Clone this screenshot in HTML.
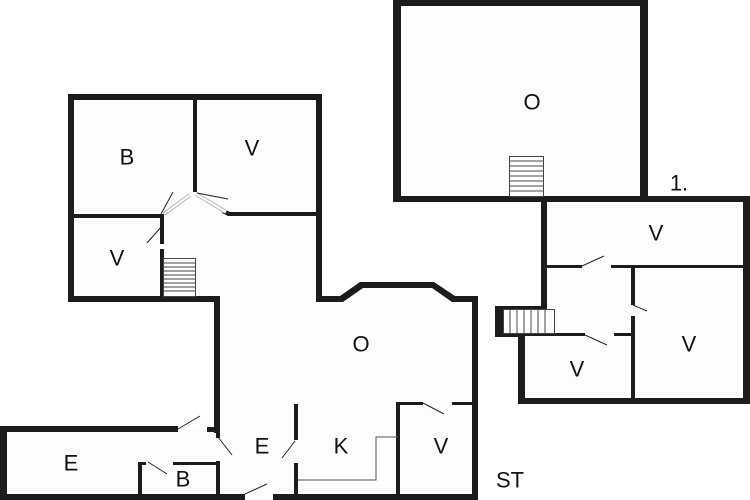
<!DOCTYPE html>
<html><head><meta charset="utf-8"><style>
html,body{margin:0;padding:0;background:#fff;}
svg{display:block;}
text{font-family:"Liberation Sans",sans-serif;font-size:22px;fill:#111;text-anchor:middle;dominant-baseline:central;}
</style></head><body>
<svg width="750" height="500" viewBox="0 0 750 500">
<rect width="750" height="500" fill="#fff"/>
<!-- room fills -->
<g fill="#fdfdfc">
<rect x="71" y="97" width="248" height="202"/>
<rect x="217" y="296" width="258" height="202"/>
<polygon points="319,299 342,299 362,285 433,285 453,299 475,299 475,498 319,498"/>
<rect x="3" y="429" width="216" height="69"/>
<rect x="397" y="3" width="247" height="196"/>
<rect x="544" y="199" width="203" height="202"/>
<rect x="521" y="320" width="30" height="82"/>
</g>
<g fill="#1c1c1c">
<!-- left top block -->
<rect x="68" y="94" width="254" height="6"/>
<rect x="68" y="94" width="6" height="208"/>
<rect x="68" y="296" width="152" height="6"/>
<rect x="316" y="94" width="6" height="208"/>
<rect x="193" y="97" width="4" height="95"/>
<rect x="74" y="214" width="88" height="4"/>
<rect x="228" y="212" width="90" height="4"/>
<polygon points="224,209 230,212 228,216 222,213"/>
<rect x="160" y="214" width="4" height="30"/>
<rect x="160" y="249" width="4" height="48"/>
<!-- corridor -->
<rect x="214" y="296" width="6" height="137"/>
<rect x="207" y="427" width="13" height="5"/>
<rect x="216" y="432" width="4" height="6"/>
<rect x="216" y="461" width="4" height="36"/>
<!-- O room top -->
<polygon points="316,296 340,296 360,282 434,282 455,296 478,296 478,302 452,302 432,288 363,288 343,302 316,302"/>
<rect x="472" y="296" width="6" height="204"/>
<!-- E room -->
<rect x="0" y="426" width="178" height="6"/>
<rect x="0" y="426" width="7" height="74"/>
<rect x="0" y="494" width="245" height="6"/>
<rect x="273" y="494" width="205" height="6"/>
<rect x="138" y="462" width="4" height="34"/>
<rect x="138" y="462" width="8" height="3"/>
<rect x="173" y="462" width="47" height="3"/>
<!-- E/K -->
<rect x="294" y="404" width="4" height="36"/>
<rect x="294" y="463" width="4" height="33"/>
<!-- V bottom -->
<rect x="396" y="402" width="4" height="94"/>
<rect x="396" y="402" width="27" height="3"/>
<rect x="452" y="402" width="22" height="3"/>
<!-- top right O block -->
<rect x="393" y="0" width="255" height="6"/>
<rect x="393" y="0" width="8" height="202"/>
<rect x="640" y="0" width="8" height="202"/>
<rect x="393" y="196" width="357" height="6"/>
<!-- right lower block -->
<rect x="743" y="196" width="7" height="208"/>
<rect x="541" y="196" width="6" height="114"/>
<rect x="495" y="306" width="52" height="6"/>
<rect x="495" y="306" width="8" height="31"/>
<rect x="495" y="332" width="30" height="5"/>
<rect x="518" y="332" width="7" height="72"/>
<rect x="518" y="398" width="232" height="6"/>
<rect x="547" y="265" width="35" height="3"/>
<rect x="611" y="265" width="132" height="3"/>
<rect x="631" y="266" width="4" height="39"/>
<rect x="631" y="316" width="4" height="84"/>
<rect x="525" y="333" width="60" height="3"/>
<rect x="614" y="333" width="19" height="3"/>
</g>
<!-- stairs -->
<g stroke="#444" stroke-width="1" fill="#fff">
<rect x="163.5" y="258.5" width="32" height="38"/>
<path d="M164 263h31M164 267h31M164 271h31M164 275h31M164 279h31M164 283h31M164 287h31M164 291h31"/>
<rect x="509.5" y="156.5" width="34" height="40"/>
<path d="M510 161h33M510 166h33M510 171h33M510 176h33M510 181h33M510 186h33M510 191h33"/>
<rect x="503.5" y="309.5" width="51" height="24"/>
<path d="M510 310v23M517 310v23M524 310v23M531 310v23M538 310v23M545 310v23"/>
</g>
<!-- doors -->
<g stroke="#222" stroke-width="1" fill="none">
<path d="M164 214L190 195M196 194L226 212" stroke="#bbb" stroke-width="4"/>
<path d="M164 214L190 195M196 194L226 212" stroke="#fff" stroke-width="2"/>
<path d="M161 214L173 192M197 193L228 199M162 226L147 243"/>
<path d="M178 429L200 416M218 437L232 455M295 441L282 458M148 462L167 474M245 494L267 484M423 403L444 414"/>
<path d="M298 480H376V437H398" stroke="#555"/>
<path d="M582 266L604 256M633 305L647 311M585 335L607 345"/>
</g>
<text x="127" y="157">B</text>
<text x="252" y="148">V</text>
<text x="117" y="258">V</text>
<text x="361" y="344">O</text>
<text x="71" y="463">E</text>
<text x="183" y="479">B</text>
<text x="262" y="446">E</text>
<text x="341" y="446">K</text>
<text x="441" y="446">V</text>
<text x="510" y="480">ST</text>
<text x="532" y="102">O</text>
<text x="679" y="183">1.</text>
<text x="656" y="233">V</text>
<text x="689" y="344">V</text>
<text x="577" y="369">V</text>
</svg>
</body></html>
